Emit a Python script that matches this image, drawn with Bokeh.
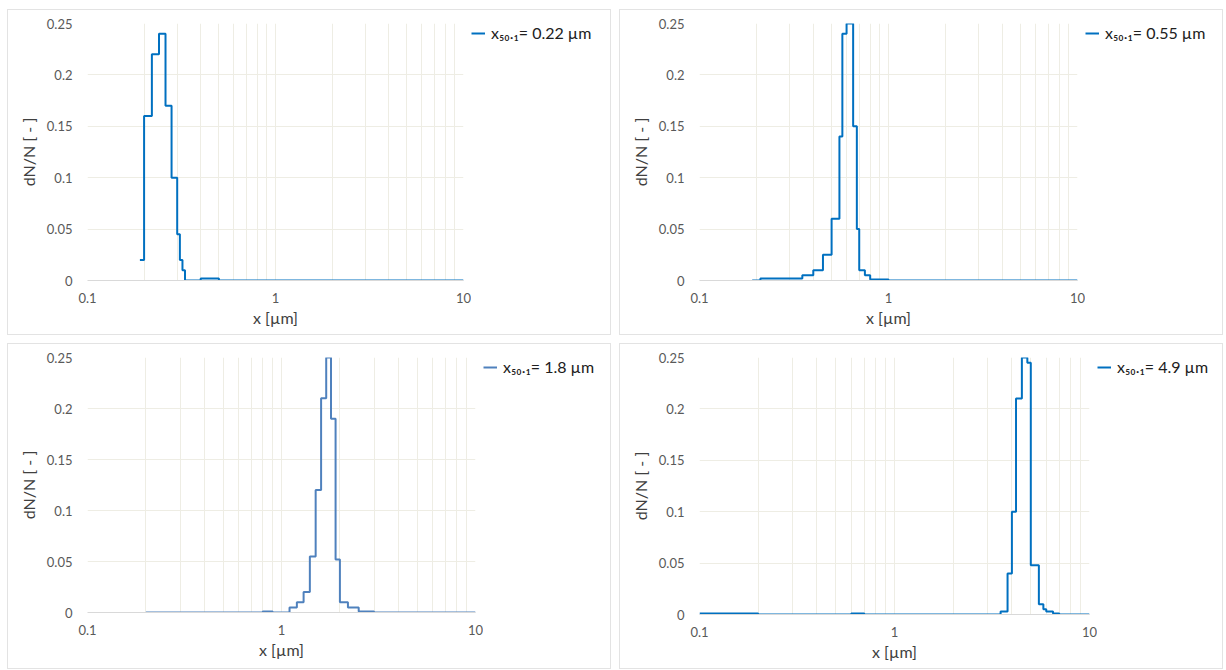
from bokeh.plotting import figure
from bokeh.models import Range1d, FixedTicker, CustomJSTickFormatter, Legend, LegendItem
from bokeh.layouts import row, column
from bokeh.embed import file_html
from bokeh.resources import INLINE

# ---- data ----
x_major_ticks = [0.1, 1, 10]
x_minor_ticks = [0.2, 0.3, 0.4, 0.5, 0.6, 0.7, 0.8, 0.9, 2, 3, 4, 5, 6, 7, 8, 9]
y_ticks = [0, 0.05, 0.1, 0.15, 0.2, 0.25]

edges_1 = [0.19, 0.2, 0.22, 0.24, 0.26, 0.28, 0.3, 0.31, 0.32, 0.33, 0.4, 0.5, 10]
dn_1 = [0.02, 0.16, 0.22, 0.24, 0.17, 0.10, 0.045, 0.02, 0.01, 0.0, 0.002, 0.0, 0.0]
label_1 = "x₅₀.₁= 0.22 µm"

edges_2 = [0.19, 0.21, 0.35, 0.4, 0.45, 0.5, 0.55, 0.57, 0.6, 0.65, 0.68, 0.7, 0.75, 0.8, 1.0, 10]
dn_2 = [0.0, 0.002, 0.005, 0.01, 0.025, 0.06, 0.14, 0.24, 0.25, 0.15, 0.05, 0.01, 0.005, 0.001, 0.0, 0.0]
label_2 = "x₅₀.₁= 0.55 µm"

edges_3 = [0.2, 0.8, 0.9, 1.1, 1.2, 1.3, 1.4, 1.5, 1.6, 1.7, 1.8, 1.9, 2.0, 2.2, 2.5, 3.0, 10]
dn_3 = [0.0, 0.001, 0.0, 0.005, 0.01, 0.02, 0.055, 0.12, 0.21, 0.25, 0.19, 0.052, 0.01, 0.005, 0.001, 0.0, 0.0]
label_3 = "x₅₀.₁= 1.8 µm"

edges_4 = [0.1, 0.2, 0.6, 0.7, 3.5, 3.8, 4.0, 4.2, 4.5, 4.8, 5.0, 5.5, 5.8, 6.0, 6.5, 7.0, 10]
dn_4 = [0.001, 0.0, 0.001, 0.0, 0.003, 0.04, 0.10, 0.21, 0.25, 0.245, 0.048, 0.01, 0.005, 0.003, 0.001, 0.0, 0.0]
label_4 = "x₅₀.₁= 4.9 µm"

x_title = "x [µm]"
y_title = "dN/N [ - ]"

FONT = "Lato"
GRID = "#EEEDE4"
BORDER = "1px solid #E3E3E3"
PW, PH = 604, 326


def panel(edges, vals, label, color, fw, fh):
    wplot = 1 + 79 + fw + 9
    p = figure(width=wplot, height=PH, x_axis_type="log",
               x_range=Range1d(0.1, 10), y_range=Range1d(0, 0.25),
               output_backend="svg", toolbar_location=None,
               min_border_left=79, min_border_right=9,
               min_border_top=13, min_border_bottom=PH - 2 - 13 - fh)
    p.styles = {"border": BORDER, "border-right": "none", "box-sizing": "border-box"}
    p.outline_line_color = None
    p.step(x=edges, y=vals, mode="after", line_color=color, line_width=2)

    p.xaxis.ticker = FixedTicker(ticks=x_major_ticks, minor_ticks=x_minor_ticks)
    p.yaxis.ticker = FixedTicker(ticks=y_ticks)
    p.xaxis.formatter = CustomJSTickFormatter(code="return String(+tick.toPrecision(3));")
    p.yaxis.formatter = CustomJSTickFormatter(code="return String(+tick.toFixed(2));")

    for ax in (p.xaxis, p.yaxis):
        ax.major_tick_line_color = None
        ax.minor_tick_line_color = None
        ax.major_tick_out = 0
        ax.minor_tick_out = 0
        ax.major_label_text_font = FONT
        ax.major_label_text_font_size = "13px"
        ax.major_label_text_color = "#595959"
        ax.axis_label_text_font = FONT
        ax.axis_label_text_font_size = "16px"
        ax.axis_label_text_font_style = "normal"
        ax.axis_label_text_color = "#404040"
    p.xaxis.axis_line_color = "#D9D9D9"
    p.yaxis.axis_line_color = None
    p.xaxis.major_label_standoff = 12
    p.yaxis.major_label_standoff = 15
    p.xaxis.axis_label_standoff = 2
    p.yaxis.axis_label_standoff = 6
    p.xaxis.axis_label = x_title
    p.yaxis.axis_label = y_title

    p.xgrid.grid_line_color = GRID
    p.xgrid.minor_grid_line_color = GRID
    p.ygrid.grid_line_color = GRID

    # legend lives in its own small canvas to the right of the plot frame
    q = figure(width=PW - wplot, height=PH, x_range=Range1d(0, 1), y_range=Range1d(0, 1),
               output_backend="svg", toolbar_location=None,
               x_axis_location=None, y_axis_location=None,
               min_border_left=0, min_border_right=0, min_border_top=11, min_border_bottom=0)
    q.styles = {"border": BORDER, "border-left": "none", "box-sizing": "border-box"}
    q.outline_line_color = None
    q.xgrid.visible = False
    q.ygrid.visible = False
    # sample line kept outside the visible range; only its legend swatch shows
    swatch = q.line(x=[5, 6], y=[5, 6], line_color=color, line_width=2)
    leg = Legend(items=[LegendItem(label=label, renderers=[swatch])],
                 location="top_left", margin=0, padding=0,
                 glyph_width=14, glyph_height=16, label_standoff=6,
                 border_line_color=None, background_fill_alpha=0,
                 label_text_font=FONT, label_text_font_size="16px",
                 label_text_color="#202020")
    q.add_layout(leg, "center")
    return row(p, q, spacing=0)


pan1 = panel(edges_1, dn_1, label_1, "#0070C0", 375, 255)
pan2 = panel(edges_2, dn_2, label_2, "#0070C0", 377, 255)
pan3 = panel(edges_3, dn_3, label_3, "#4F81BD", 387, 253)
pan4 = panel(edges_4, dn_4, label_4, "#0070C0", 389, 255)

layout = column(row(pan1, pan2, spacing=8), row(pan3, pan4, spacing=8), spacing=8,
                margin=(9, 0, 0, 7))

open("out.html", "w").write(file_html(layout, INLINE))
